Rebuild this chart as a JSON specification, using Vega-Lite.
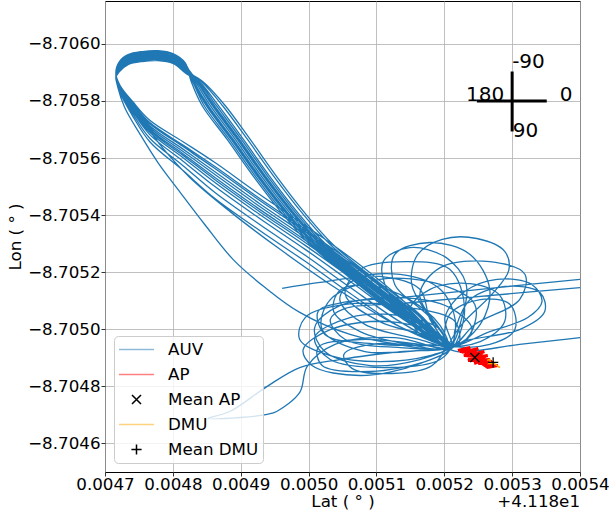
{
"$schema": "https://vega.github.io/schema/vega-lite/v6.json",
"width": 475, "height": 471,
"autosize": {"type": "none"},
"padding": {"left": 105, "top": 1, "right": 30, "bottom": 43},
"config": {
 "font": "DejaVu Sans",
 "view": {"stroke": "black", "strokeWidth": 1},
 "axis": {"grid": true, "gridColor": "#b0b0b0", "gridWidth": 0.8, "domain": false, "tickColor": "black", "tickSize": 4, "tickWidth": 0.8, "labelFont": "DejaVu Sans", "labelFontSize": 16.7, "labelColor": "black", "labelFlush": false, "labelOverlap": false, "titleFont": "DejaVu Sans", "titleFontSize": 16.7, "titleFontWeight": "normal", "titleColor": "black"}
},
"datasets": {
"auv": [
{"lat":41.185488,"lon":-8.705195},{"lat":41.1854,"lon":-8.705175},{"lat":41.185253,"lon":-8.70514},{"lat":41.185135,"lon":-8.705111},{"lat":41.185051,"lon":-8.705094},{"lat":41.185014,"lon":-8.705062},{"lat":41.185024,"lon":-8.704982},{"lat":41.185105,"lon":-8.704947},{"lat":41.185208,"lon":-8.704936},
{"lat":41.185164,"lon":-8.704894},{"lat":41.185091,"lon":-8.704873},{"lat":41.185024,"lon":-8.704922},{"lat":41.185009,"lon":-8.705006},{"lat":41.185046,"lon":-8.705083},{"lat":41.185135,"lon":-8.705111},{"lat":41.185208,"lon":-8.705076},{"lat":41.185241,"lon":-8.704999},{"lat":41.185216,"lon":-8.70494},
{"lat":41.185135,"lon":-8.705098},{"lat":41.185061,"lon":-8.705238},{"lat":41.184995,"lon":-8.70535},{"lat":41.184928,"lon":-8.705458},{"lat":41.184862,"lon":-8.70557},{"lat":41.184815,"lon":-8.705645},{"lat":41.184766,"lon":-8.705724},{"lat":41.184741,"lon":-8.705791},{"lat":41.184722,"lon":-8.705853},{"lat":41.184716,"lon":-8.705892},{"lat":41.184721,"lon":-8.705927},{"lat":41.184734,"lon":-8.705952},{"lat":41.184755,"lon":-8.705963},{"lat":41.184778,"lon":-8.705966},{"lat":41.1848,"lon":-8.705956},{"lat":41.184818,"lon":-8.705924},{"lat":41.184836,"lon":-8.705868},{"lat":41.184861,"lon":-8.705784},{"lat":41.184898,"lon":-8.705665},{"lat":41.184937,"lon":-8.705535},{"lat":41.184979,"lon":-8.705406},{"lat":41.18502,"lon":-8.705297},{"lat":41.185082,"lon":-8.705174},{"lat":41.185148,"lon":-8.705052},{"lat":41.185201,"lon":-8.704947},
{"lat":41.185253,"lon":-8.704957},{"lat":41.185289,"lon":-8.705027},{"lat":41.185282,"lon":-8.705118},{"lat":41.185238,"lon":-8.70516},{"lat":41.185179,"lon":-8.70514},{"lat":41.185149,"lon":-8.705069},{"lat":41.185164,"lon":-8.704982},{"lat":41.185205,"lon":-8.704933},
{"lat":41.185179,"lon":-8.704908},{"lat":41.185105,"lon":-8.704887},{"lat":41.185032,"lon":-8.704908},{"lat":41.184987,"lon":-8.704964},{"lat":41.184995,"lon":-8.705041},{"lat":41.185054,"lon":-8.705087},{"lat":41.185149,"lon":-8.705076},{"lat":41.185216,"lon":-8.705027},{"lat":41.18522,"lon":-8.704947},
{"lat":41.185135,"lon":-8.705062},{"lat":41.185061,"lon":-8.705192},{"lat":41.184995,"lon":-8.705304},{"lat":41.184928,"lon":-8.705412},{"lat":41.184862,"lon":-8.705524},{"lat":41.184815,"lon":-8.705609},{"lat":41.184766,"lon":-8.705696},{"lat":41.184741,"lon":-8.705773},{"lat":41.184722,"lon":-8.705843},{"lat":41.184716,"lon":-8.705887},{"lat":41.184721,"lon":-8.705917},{"lat":41.184734,"lon":-8.705942},{"lat":41.184755,"lon":-8.705953},{"lat":41.184778,"lon":-8.705956},{"lat":41.1848,"lon":-8.705946},{"lat":41.184818,"lon":-8.705914},{"lat":41.184829,"lon":-8.705868},{"lat":41.184846,"lon":-8.705784},{"lat":41.184883,"lon":-8.705665},{"lat":41.184922,"lon":-8.705535},{"lat":41.184964,"lon":-8.705406},{"lat":41.185005,"lon":-8.705297},{"lat":41.185067,"lon":-8.705174},{"lat":41.185133,"lon":-8.705052},{"lat":41.185205,"lon":-8.704942},
{"lat":41.185267,"lon":-8.704992},{"lat":41.185323,"lon":-8.705041},{"lat":41.185344,"lon":-8.705097},{"lat":41.185329,"lon":-8.705157},{"lat":41.185278,"lon":-8.705175},{"lat":41.18523,"lon":-8.705132},{"lat":41.185201,"lon":-8.705041},{"lat":41.185211,"lon":-8.704936},
{"lat":41.185135,"lon":-8.705042},{"lat":41.185061,"lon":-8.705168},{"lat":41.184995,"lon":-8.70528},{"lat":41.184928,"lon":-8.705388},{"lat":41.184862,"lon":-8.7055},{"lat":41.184815,"lon":-8.705589},{"lat":41.184766,"lon":-8.705682},{"lat":41.184741,"lon":-8.705763},{"lat":41.184722,"lon":-8.705839},{"lat":41.184716,"lon":-8.705882},{"lat":41.184721,"lon":-8.705906},{"lat":41.184734,"lon":-8.705931},{"lat":41.184755,"lon":-8.705942},{"lat":41.184778,"lon":-8.705945},{"lat":41.1848,"lon":-8.705935},{"lat":41.184818,"lon":-8.705903},{"lat":41.184839,"lon":-8.705868},{"lat":41.184867,"lon":-8.705784},{"lat":41.184904,"lon":-8.705665},{"lat":41.184943,"lon":-8.705535},{"lat":41.184985,"lon":-8.705406},{"lat":41.185026,"lon":-8.705297},{"lat":41.185088,"lon":-8.705174},{"lat":41.185154,"lon":-8.705052},{"lat":41.185198,"lon":-8.70495},
{"lat":41.185182,"lon":-8.705027},{"lat":41.185152,"lon":-8.705157},{"lat":41.185161,"lon":-8.705262},{"lat":41.185197,"lon":-8.705315},{"lat":41.185248,"lon":-8.705318},{"lat":41.185289,"lon":-8.705273},{"lat":41.185295,"lon":-8.705206},{"lat":41.18527,"lon":-8.705122},{"lat":41.185226,"lon":-8.705017},{"lat":41.185208,"lon":-8.704943},
{"lat":41.185238,"lon":-8.704964},{"lat":41.185311,"lon":-8.704999},{"lat":41.185348,"lon":-8.705062},{"lat":41.185341,"lon":-8.705129},{"lat":41.185289,"lon":-8.70515},{"lat":41.185238,"lon":-8.705104},{"lat":41.185216,"lon":-8.704999},{"lat":41.185211,"lon":-8.704933},
{"lat":41.185135,"lon":-8.705084},{"lat":41.185061,"lon":-8.70522},{"lat":41.184995,"lon":-8.705332},{"lat":41.184928,"lon":-8.70544},{"lat":41.184862,"lon":-8.705552},{"lat":41.184815,"lon":-8.705631},{"lat":41.184766,"lon":-8.705713},{"lat":41.184741,"lon":-8.705784},{"lat":41.184722,"lon":-8.705849},{"lat":41.184716,"lon":-8.705896},{"lat":41.184721,"lon":-8.705934},{"lat":41.184734,"lon":-8.705959},{"lat":41.184755,"lon":-8.70597},{"lat":41.184778,"lon":-8.705973},{"lat":41.1848,"lon":-8.705963},{"lat":41.184818,"lon":-8.705931},{"lat":41.184831,"lon":-8.705868},{"lat":41.184852,"lon":-8.705784},{"lat":41.184889,"lon":-8.705665},{"lat":41.184928,"lon":-8.705535},{"lat":41.18497,"lon":-8.705406},{"lat":41.185011,"lon":-8.705297},{"lat":41.185073,"lon":-8.705174},{"lat":41.185139,"lon":-8.705052},{"lat":41.18521,"lon":-8.70494},
{"lat":41.185164,"lon":-8.70488},{"lat":41.185076,"lon":-8.704838},{"lat":41.185005,"lon":-8.704873},{"lat":41.184992,"lon":-8.704929},{"lat":41.185032,"lon":-8.704999},{"lat":41.18512,"lon":-8.705027},{"lat":41.185194,"lon":-8.704978},{"lat":41.18521,"lon":-8.704933},
{"lat":41.185135,"lon":-8.705026},{"lat":41.185061,"lon":-8.705147},{"lat":41.184995,"lon":-8.705259},{"lat":41.184928,"lon":-8.705367},{"lat":41.184862,"lon":-8.705479},{"lat":41.184815,"lon":-8.705573},{"lat":41.184766,"lon":-8.705669},{"lat":41.184741,"lon":-8.705755},{"lat":41.184722,"lon":-8.705834},{"lat":41.184716,"lon":-8.705885},{"lat":41.184721,"lon":-8.705913},{"lat":41.184734,"lon":-8.705938},{"lat":41.184755,"lon":-8.705949},{"lat":41.184778,"lon":-8.705952},{"lat":41.1848,"lon":-8.705942},{"lat":41.184818,"lon":-8.70591},{"lat":41.184842,"lon":-8.705868},{"lat":41.184873,"lon":-8.705784},{"lat":41.18491,"lon":-8.705665},{"lat":41.184949,"lon":-8.705535},{"lat":41.184991,"lon":-8.705406},{"lat":41.185032,"lon":-8.705297},{"lat":41.185094,"lon":-8.705174},{"lat":41.18516,"lon":-8.705052},{"lat":41.185203,"lon":-8.704945},
{"lat":41.185194,"lon":-8.704999},{"lat":41.185135,"lon":-8.705048},{"lat":41.185061,"lon":-8.705041},{"lat":41.185009,"lon":-8.704971},{"lat":41.185032,"lon":-8.704894},{"lat":41.18512,"lon":-8.704866},{"lat":41.185194,"lon":-8.704894},{"lat":41.185208,"lon":-8.704936},
{"lat":41.185135,"lon":-8.704947},{"lat":41.185061,"lon":-8.704982},{"lat":41.184987,"lon":-8.705059},{"lat":41.184936,"lon":-8.705146},{"lat":41.184889,"lon":-8.705244},{"lat":41.184847,"lon":-8.705367},{"lat":41.184811,"lon":-8.705479},{"lat":41.184778,"lon":-8.705584},{"lat":41.184752,"lon":-8.705682},{"lat":41.184729,"lon":-8.705777},{"lat":41.184719,"lon":-8.705847},{"lat":41.184716,"lon":-8.705889},{"lat":41.184721,"lon":-8.705925},{"lat":41.184734,"lon":-8.70595},{"lat":41.184755,"lon":-8.705961},{"lat":41.184778,"lon":-8.705964},{"lat":41.1848,"lon":-8.705954},{"lat":41.184818,"lon":-8.705922},{"lat":41.184835,"lon":-8.705868},{"lat":41.184858,"lon":-8.705784},{"lat":41.184895,"lon":-8.705665},{"lat":41.184934,"lon":-8.705535},{"lat":41.184976,"lon":-8.705406},{"lat":41.185017,"lon":-8.705297},{"lat":41.185079,"lon":-8.705174},{"lat":41.185145,"lon":-8.705052},{"lat":41.185206,"lon":-8.70494},
{"lat":41.185194,"lon":-8.705013},{"lat":41.185149,"lon":-8.705104},{"lat":41.185091,"lon":-8.705153},{"lat":41.185046,"lon":-8.705136},{"lat":41.185037,"lon":-8.705062},{"lat":41.185076,"lon":-8.704992},{"lat":41.185149,"lon":-8.704947},{"lat":41.185207,"lon":-8.704936},
{"lat":41.185216,"lon":-8.705034},{"lat":41.185194,"lon":-8.70514},{"lat":41.185135,"lon":-8.705192},{"lat":41.185068,"lon":-8.705175},{"lat":41.185046,"lon":-8.705104},{"lat":41.185083,"lon":-8.705017},{"lat":41.185164,"lon":-8.704964},{"lat":41.185208,"lon":-8.704936},
{"lat":41.185135,"lon":-8.705076},{"lat":41.185061,"lon":-8.70521},{"lat":41.184995,"lon":-8.705322},{"lat":41.184928,"lon":-8.70543},{"lat":41.184862,"lon":-8.705542},{"lat":41.184815,"lon":-8.705623},{"lat":41.184766,"lon":-8.705707},{"lat":41.184741,"lon":-8.70578},{"lat":41.184722,"lon":-8.705847},{"lat":41.184716,"lon":-8.70589},{"lat":41.184721,"lon":-8.705923},{"lat":41.184734,"lon":-8.705948},{"lat":41.184755,"lon":-8.705959},{"lat":41.184778,"lon":-8.705962},{"lat":41.1848,"lon":-8.705952},{"lat":41.184818,"lon":-8.70592},{"lat":41.184833,"lon":-8.705868},{"lat":41.184855,"lon":-8.705784},{"lat":41.184892,"lon":-8.705665},{"lat":41.184931,"lon":-8.705535},{"lat":41.184973,"lon":-8.705406},{"lat":41.185014,"lon":-8.705297},{"lat":41.185076,"lon":-8.705174},{"lat":41.185142,"lon":-8.705052},{"lat":41.185206,"lon":-8.704938},
{"lat":41.185226,"lon":-8.705041},{"lat":41.185232,"lon":-8.70516},{"lat":41.185203,"lon":-8.705251},{"lat":41.185149,"lon":-8.705286},{"lat":41.18511,"lon":-8.705237},{"lat":41.185117,"lon":-8.705132},{"lat":41.185161,"lon":-8.705027},{"lat":41.185208,"lon":-8.70494},
{"lat":41.185135,"lon":-8.70511},{"lat":41.185061,"lon":-8.705252},{"lat":41.184995,"lon":-8.705364},{"lat":41.184928,"lon":-8.705472},{"lat":41.184862,"lon":-8.705584},{"lat":41.184815,"lon":-8.705657},{"lat":41.184766,"lon":-8.705732},{"lat":41.184741,"lon":-8.705797},{"lat":41.184722,"lon":-8.705855},{"lat":41.184716,"lon":-8.705897},{"lat":41.184721,"lon":-8.705937},{"lat":41.184734,"lon":-8.705962},{"lat":41.184755,"lon":-8.705973},{"lat":41.184778,"lon":-8.705976},{"lat":41.1848,"lon":-8.705966},{"lat":41.184818,"lon":-8.705934},{"lat":41.184827,"lon":-8.705868},{"lat":41.184843,"lon":-8.705784},{"lat":41.18488,"lon":-8.705665},{"lat":41.184919,"lon":-8.705535},{"lat":41.184961,"lon":-8.705406},{"lat":41.185002,"lon":-8.705297},{"lat":41.185064,"lon":-8.705174},{"lat":41.18513,"lon":-8.705052},{"lat":41.1852,"lon":-8.704948},
{"lat":41.185182,"lon":-8.704873},{"lat":41.185123,"lon":-8.704845},{"lat":41.185064,"lon":-8.704863},{"lat":41.185052,"lon":-8.704912},{"lat":41.185102,"lon":-8.70495},{"lat":41.185205,"lon":-8.704933},
{"lat":41.185253,"lon":-8.705017},{"lat":41.185267,"lon":-8.70514},{"lat":41.185238,"lon":-8.705262},{"lat":41.185179,"lon":-8.705304},{"lat":41.185127,"lon":-8.705262},{"lat":41.185127,"lon":-8.705157},{"lat":41.185179,"lon":-8.705041},{"lat":41.185207,"lon":-8.70494},
{"lat":41.185135,"lon":-8.705054},{"lat":41.185061,"lon":-8.705182},{"lat":41.184995,"lon":-8.705294},{"lat":41.184928,"lon":-8.705402},{"lat":41.184862,"lon":-8.705514},{"lat":41.184815,"lon":-8.705601},{"lat":41.184766,"lon":-8.70569},{"lat":41.184741,"lon":-8.705769},{"lat":41.184722,"lon":-8.705841},{"lat":41.184716,"lon":-8.70588},{"lat":41.184721,"lon":-8.705902},{"lat":41.184734,"lon":-8.705927},{"lat":41.184755,"lon":-8.705938},{"lat":41.184778,"lon":-8.705941},{"lat":41.1848,"lon":-8.705931},{"lat":41.184818,"lon":-8.705899},{"lat":41.184835,"lon":-8.705868},{"lat":41.184859,"lon":-8.705784},{"lat":41.184896,"lon":-8.705665},{"lat":41.184935,"lon":-8.705535},{"lat":41.184977,"lon":-8.705406},{"lat":41.185018,"lon":-8.705297},{"lat":41.18508,"lon":-8.705174},{"lat":41.185146,"lon":-8.705052},{"lat":41.185204,"lon":-8.704943},
{"lat":41.185194,"lon":-8.704947},{"lat":41.18512,"lon":-8.705027},{"lat":41.185032,"lon":-8.705157},{"lat":41.184958,"lon":-8.70528},{"lat":41.184884,"lon":-8.705413},{"lat":41.184825,"lon":-8.705532},{"lat":41.184781,"lon":-8.705647},{"lat":41.184752,"lon":-8.705742},{"lat":41.184729,"lon":-8.705822},{"lat":41.184716,"lon":-8.705887},{"lat":41.184721,"lon":-8.705917},{"lat":41.184734,"lon":-8.705942},{"lat":41.184755,"lon":-8.705953},{"lat":41.184778,"lon":-8.705956},{"lat":41.1848,"lon":-8.705946},{"lat":41.184818,"lon":-8.705914},{"lat":41.184831,"lon":-8.705868},{"lat":41.184851,"lon":-8.705784},{"lat":41.184888,"lon":-8.705665},{"lat":41.184927,"lon":-8.705535},{"lat":41.184969,"lon":-8.705406},{"lat":41.18501,"lon":-8.705297},{"lat":41.185072,"lon":-8.705174},{"lat":41.185138,"lon":-8.705052},{"lat":41.185208,"lon":-8.704936},
{"lat":41.185238,"lon":-8.704982},{"lat":41.185245,"lon":-8.705087},{"lat":41.185194,"lon":-8.705157},{"lat":41.185105,"lon":-8.705175},{"lat":41.185032,"lon":-8.705104},{"lat":41.18502,"lon":-8.704999},{"lat":41.185083,"lon":-8.704922},{"lat":41.185208,"lon":-8.704929},
{"lat":41.185172,"lon":-8.704887},{"lat":41.185091,"lon":-8.704852},{"lat":41.18502,"lon":-8.704873},{"lat":41.185014,"lon":-8.704936},{"lat":41.185076,"lon":-8.704964},{"lat":41.185164,"lon":-8.704947},{"lat":41.18521,"lon":-8.704929},
{"lat":41.185135,"lon":-8.705068},{"lat":41.185061,"lon":-8.7052},{"lat":41.184995,"lon":-8.705312},{"lat":41.184928,"lon":-8.70542},{"lat":41.184862,"lon":-8.705532},{"lat":41.184815,"lon":-8.705615},{"lat":41.184766,"lon":-8.705701},{"lat":41.184741,"lon":-8.705776},{"lat":41.184722,"lon":-8.705845},{"lat":41.184716,"lon":-8.705888},{"lat":41.184721,"lon":-8.70592},{"lat":41.184734,"lon":-8.705945},{"lat":41.184755,"lon":-8.705956},{"lat":41.184778,"lon":-8.705959},{"lat":41.1848,"lon":-8.705949},{"lat":41.184818,"lon":-8.705917},{"lat":41.184838,"lon":-8.705868},{"lat":41.184864,"lon":-8.705784},{"lat":41.184901,"lon":-8.705665},{"lat":41.18494,"lon":-8.705535},{"lat":41.184982,"lon":-8.705406},{"lat":41.185023,"lon":-8.705297},{"lat":41.185085,"lon":-8.705174},{"lat":41.185151,"lon":-8.705052},{"lat":41.185207,"lon":-8.704941},
{"lat":41.185135,"lon":-8.704922},{"lat":41.185046,"lon":-8.704894},{"lat":41.184987,"lon":-8.704866},{"lat":41.184939,"lon":-8.7048},{"lat":41.184884,"lon":-8.704712},{"lat":41.184852,"lon":-8.704688},{"lat":41.184899,"lon":-8.704691},{"lat":41.184939,"lon":-8.704702},{"lat":41.184953,"lon":-8.704712},{"lat":41.184987,"lon":-8.704779},{"lat":41.184998,"lon":-8.70487},{"lat":41.185039,"lon":-8.704947},{"lat":41.185127,"lon":-8.704971},{"lat":41.185208,"lon":-8.704936},
{"lat":41.185245,"lon":-8.705017},{"lat":41.185311,"lon":-8.705104},{"lat":41.185319,"lon":-8.705192},{"lat":41.185267,"lon":-8.705237},{"lat":41.185194,"lon":-8.705216},{"lat":41.185164,"lon":-8.705122},{"lat":41.185194,"lon":-8.704999},{"lat":41.185211,"lon":-8.704936},
{"lat":41.18523,"lon":-8.705069},{"lat":41.185208,"lon":-8.70521},{"lat":41.185142,"lon":-8.705237},{"lat":41.185076,"lon":-8.70521},{"lat":41.185054,"lon":-8.705122},{"lat":41.185105,"lon":-8.705027},{"lat":41.185194,"lon":-8.704964},{"lat":41.185208,"lon":-8.704936},
{"lat":41.185135,"lon":-8.705093},{"lat":41.185061,"lon":-8.705231},{"lat":41.184995,"lon":-8.705343},{"lat":41.184928,"lon":-8.705451},{"lat":41.184862,"lon":-8.705563},{"lat":41.184815,"lon":-8.70564},{"lat":41.184766,"lon":-8.70572},{"lat":41.184741,"lon":-8.705788},{"lat":41.184722,"lon":-8.705851},{"lat":41.184716,"lon":-8.705894},{"lat":41.184721,"lon":-8.705931},{"lat":41.184734,"lon":-8.705956},{"lat":41.184755,"lon":-8.705967},{"lat":41.184778,"lon":-8.70597},{"lat":41.1848,"lon":-8.70596},{"lat":41.184818,"lon":-8.705928},{"lat":41.18483,"lon":-8.705868},{"lat":41.184849,"lon":-8.705784},{"lat":41.184886,"lon":-8.705665},{"lat":41.184925,"lon":-8.705535},{"lat":41.184967,"lon":-8.705406},{"lat":41.185008,"lon":-8.705297},{"lat":41.18507,"lon":-8.705174},{"lat":41.185136,"lon":-8.705052},{"lat":41.185202,"lon":-8.704946},
{"lat":41.185267,"lon":-8.704947},{"lat":41.185304,"lon":-8.704999},{"lat":41.185297,"lon":-8.705087},{"lat":41.185253,"lon":-8.705104},{"lat":41.185208,"lon":-8.705052},{"lat":41.185203,"lon":-8.70494},
{"lat":41.185219,"lon":-8.704922},{"lat":41.185311,"lon":-8.704947},{"lat":41.1854,"lon":-8.704971},{"lat":41.185488,"lon":-8.704996},{"lat":41.185488,"lon":-8.705164},{"lat":41.1854,"lon":-8.705146},{"lat":41.185233,"lon":-8.705111},{"lat":41.185135,"lon":-8.70509},{"lat":41.185054,"lon":-8.705073},{"lat":41.185032,"lon":-8.705034},{"lat":41.185054,"lon":-8.704964},{"lat":41.185135,"lon":-8.704936},{"lat":41.185208,"lon":-8.704936},
{"lat":41.185135,"lon":-8.705009},{"lat":41.185061,"lon":-8.705126},{"lat":41.184995,"lon":-8.705238},{"lat":41.184928,"lon":-8.705346},{"lat":41.184862,"lon":-8.705458},{"lat":41.184815,"lon":-8.705556},{"lat":41.184766,"lon":-8.705657},{"lat":41.184741,"lon":-8.705746},{"lat":41.184722,"lon":-8.70583},{"lat":41.184716,"lon":-8.705883},{"lat":41.184721,"lon":-8.705909},{"lat":41.184734,"lon":-8.705934},{"lat":41.184755,"lon":-8.705945},{"lat":41.184778,"lon":-8.705948},{"lat":41.1848,"lon":-8.705938},{"lat":41.184818,"lon":-8.705906},{"lat":41.184844,"lon":-8.705868},{"lat":41.184877,"lon":-8.705784},{"lat":41.184914,"lon":-8.705665},{"lat":41.184953,"lon":-8.705535},{"lat":41.184995,"lon":-8.705406},{"lat":41.185036,"lon":-8.705297},{"lat":41.185098,"lon":-8.705174},{"lat":41.185164,"lon":-8.705052},{"lat":41.185205,"lon":-8.704944},
{"lat":41.185179,"lon":-8.705034},{"lat":41.185164,"lon":-8.70514},{"lat":41.185105,"lon":-8.705185},{"lat":41.185017,"lon":-8.705164},{"lat":41.184961,"lon":-8.705143}
],
"ap": [
{"lat":41.18522,"lon":-8.704926},{"lat":41.185238,"lon":-8.704936},{"lat":41.185226,"lon":-8.704919},{"lat":41.18525,"lon":-8.704933},{"lat":41.18523,"lon":-8.704908},{"lat":41.185259,"lon":-8.704922},{"lat":41.185235,"lon":-8.704898},{"lat":41.185264,"lon":-8.704908},{"lat":41.185241,"lon":-8.704891},{"lat":41.185267,"lon":-8.704894},{"lat":41.18525,"lon":-8.70488},{"lat":41.185273,"lon":-8.704884},{"lat":41.185259,"lon":-8.704873},{"lat":41.185279,"lon":-8.704873},{"lat":41.185264,"lon":-8.704866},{"lat":41.185253,"lon":-8.704884},{"lat":41.18527,"lon":-8.704887},{"lat":41.185247,"lon":-8.704894},{"lat":41.185261,"lon":-8.704905},{"lat":41.185238,"lon":-8.704905},{"lat":41.185256,"lon":-8.704915},{"lat":41.185232,"lon":-8.704915},{"lat":41.185247,"lon":-8.704926},{"lat":41.185226,"lon":-8.704926},{"lat":41.185238,"lon":-8.704933},{"lat":41.185223,"lon":-8.704922},{"lat":41.185241,"lon":-8.704919},{"lat":41.185229,"lon":-8.704908},{"lat":41.18525,"lon":-8.704905},{"lat":41.185235,"lon":-8.704891},{"lat":41.185259,"lon":-8.704894},{"lat":41.185244,"lon":-8.70488}
],
"dmu": [
{"lat":41.185263,"lon":-8.704891},{"lat":41.185267,"lon":-8.704894},{"lat":41.185268,"lon":-8.704884},{"lat":41.185266,"lon":-8.70488},{"lat":41.185273,"lon":-8.70488},{"lat":41.185278,"lon":-8.704873},{"lat":41.185282,"lon":-8.704866},{"lat":41.185279,"lon":-8.70487}
],
"means": [
{"series":"Mean AP","lat":41.185245,"lon":-8.704901},
{"series":"Mean DMU","lat":41.185272,"lon":-8.704884}
],
"compass": [
{"lat":41.185248,"lat2":41.185351,"lon":-8.7058,"lon2":-8.7058},
{"lat":41.1853,"lat2":41.1853,"lon":-8.705903,"lon2":-8.705693}
],
"compassLabels": [
{"label":"-90","lat":41.1853,"lon":-8.705917},
{"label":"90","lat":41.185301,"lon":-8.705675},
{"label":"180","lat":41.185232,"lon":-8.705798},
{"label":"0","lat":41.18537,"lon":-8.705798}
],
"offsetText": [
{"label":"+4.118e1","lat":41.1854,"lon":-8.7045}
]
},
"encoding": {
 "x": {"field": "lat", "type": "quantitative",
   "scale": {"domain": [41.1847, 41.1854], "nice": false, "zero": false},
   "axis": {"values": [41.1847, 41.1848, 41.1849, 41.185, 41.1851, 41.1852, 41.1853, 41.1854], "labelExpr": "format(datum.value - 41.18, '.4f')", "title": "Lat ( ° )", "labelPadding": 0, "titlePadding": 1}},
 "y": {"field": "lon", "type": "quantitative",
   "scale": {"domain": [-8.70615, -8.7045], "reverse": true, "nice": false, "zero": false},
   "axis": {"values": [-8.706, -8.7058, -8.7056, -8.7054, -8.7052, -8.705, -8.7048, -8.7046], "format": ".4f", "title": "Lon ( ° )", "labelPadding": 1, "titlePadding": 3}}
},
"layer": [
 {"data": {"name": "auv"}, "mark": {"type": "line", "color": "#1f77b4", "strokeWidth": 1.3, "interpolate": "catmull-rom", "clip": true}, "encoding": {"order": {"value": null}}},
 {"data": {"name": "ap"}, "mark": {"type": "line", "color": "#ff0000", "strokeWidth": 3, "clip": true}, "encoding": {"order": {"value": null}}},
 {"data": {"name": "dmu"}, "mark": {"type": "line", "color": "#ffa500", "strokeWidth": 1.5, "clip": true}, "encoding": {"order": {"value": null}}},
 {"data": {"name": "means"}, "mark": {"type": "point", "filled": false, "size": 289, "strokeWidth": 1.3, "opacity": 1, "clip": true},
  "encoding": {
   "color": {"field": "series", "type": "nominal",
     "scale": {"domain": ["AUV", "AP", "Mean AP", "DMU", "Mean DMU"], "range": ["#8fbbd9", "#ff8080", "black", "#ffd27f", "black"]},
     "legend": {"title": null, "orient": "bottom-left", "offset": 9, "padding": 4, "rowPadding": 6, "symbolOffset": 9, "labelOffset": 22, "symbolSize": 289, "symbolStrokeWidth": 1.5, "labelFontSize": 16.7, "labelFont": "DejaVu Sans", "labelColor": "black", "fillColor": "rgba(255,255,255,0.8)", "strokeColor": "#cccccc", "cornerRadius": 4}},
   "shape": {"field": "series", "type": "nominal",
     "scale": {"domain": ["AUV", "AP", "Mean AP", "DMU", "Mean DMU"], "range": ["M-2.06,0L2.06,0", "M-2.06,0L2.06,0", "M-0.53,-0.53L0.53,0.53M-0.53,0.53L0.53,-0.53", "M-2.06,0L2.06,0", "M0,-0.6L0,0.6M-0.6,0L0.6,0"]},
     "legend": {"title": null, "orient": "bottom-left", "offset": 9, "padding": 4, "rowPadding": 6, "symbolOffset": 9, "labelOffset": 22, "symbolSize": 289, "symbolStrokeWidth": 1.5, "labelFontSize": 16.7, "labelFont": "DejaVu Sans", "labelColor": "black", "fillColor": "rgba(255,255,255,0.8)", "strokeColor": "#cccccc", "cornerRadius": 4}}
  }},
 {"data": {"name": "compass"}, "mark": {"type": "rule", "color": "black", "strokeWidth": 3}, "encoding": {"x2": {"field": "lat2"}, "y2": {"field": "lon2"}}},
 {"data": {"name": "compassLabels"}, "mark": {"type": "text", "align": "left", "baseline": "alphabetic", "fontSize": 20, "font": "DejaVu Sans", "color": "black"}, "encoding": {"text": {"field": "label"}}},
 {"data": {"name": "offsetText"}, "mark": {"type": "text", "align": "right", "baseline": "alphabetic", "fontSize": 16.7, "font": "DejaVu Sans", "color": "black", "dy": 35, "clip": false},
  "encoding": {"text": {"field": "label"}}}
]
}
